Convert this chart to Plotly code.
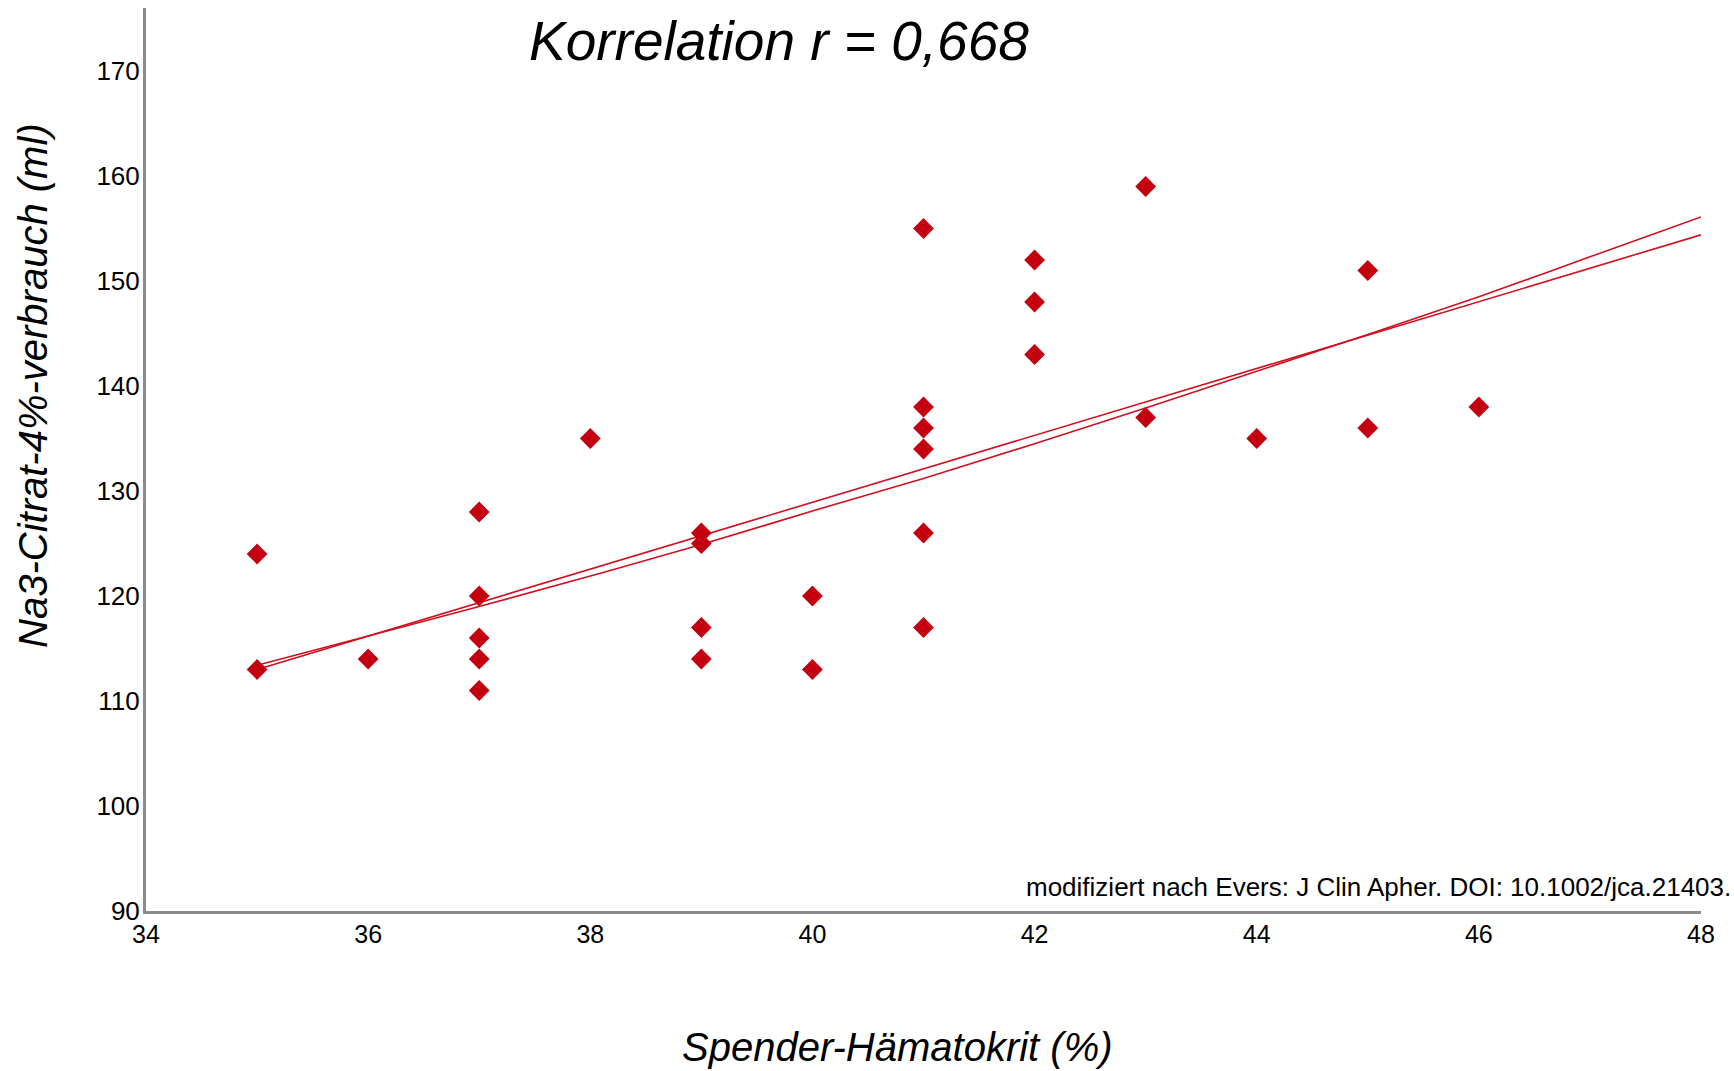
import plotly.graph_objects as go

# ---- data ----
hematocrit = [35, 35, 36, 37, 37, 37, 37, 37, 38, 39, 39, 39, 39, 40, 40,
              41, 41, 41, 41, 41, 41, 42, 42, 42, 43, 43, 44, 45, 45, 46]
citrate = [124, 113, 114, 128, 120, 116, 114, 111, 135, 126, 125, 117, 114, 120, 113,
           155, 138, 136, 134, 126, 117, 152, 148, 143, 159, 137, 135, 151, 136, 138]

# linear regression line (read endpoints)
lin_x = [35, 48]
lin_y = [113.0, 154.4]

# slightly curved (quadratic) fit line, read at each integer hematocrit
curve_x = [35, 36, 37, 38, 39, 40, 41, 42, 43, 44, 45, 46, 47, 48]
curve_y = [113.4, 116.2, 119.0, 121.9, 124.9, 128.1, 131.2, 134.5, 137.9, 141.4,
           144.9, 148.5, 152.3, 156.1]

x_ticks = [34, 36, 38, 40, 42, 44, 46, 48]
y_ticks = [90, 100, 110, 120, 130, 140, 150, 160, 170]

title_text = "Korrelation r = 0,668"
x_title = "Spender-Hämatokrit (%)"
y_title = "Na3-Citrat-4%-verbrauch (ml)"
source_text = "modifiziert nach Evers: J Clin Apher. DOI: 10.1002/jca.21403."

# ---- styling ----
MARK = "rgb(196,0,16)"
LINE = "rgb(208,16,32)"
AXIS = "#8c8c8c"
FONT = "Liberation Sans, Arial, sans-serif"
NARROW = "Liberation Sans Narrow, Arial Narrow, Liberation Sans, sans-serif"

fig = go.Figure()
fig.add_trace(go.Scatter(x=lin_x, y=lin_y, mode="lines",
                         line=dict(color=LINE, width=1.6), hoverinfo="skip"))
fig.add_trace(go.Scatter(x=curve_x, y=curve_y, mode="lines",
                         line=dict(color=LINE, width=1.6, shape="spline"), hoverinfo="skip"))
fig.add_trace(go.Scatter(x=hematocrit, y=citrate, mode="markers",
                         marker=dict(symbol="diamond", size=16, color=MARK,
                                     line=dict(width=0))))

fig.update_layout(
    width=1734, height=1071,
    margin=dict(l=146, r=33, t=8, b=160),
    paper_bgcolor="white", plot_bgcolor="white",
    showlegend=False,
    font=dict(family=FONT, color="black"),
)
fig.update_xaxes(range=[34, 48], tickvals=x_ticks, showline=True, linecolor=AXIS,
                 linewidth=3, showgrid=False, zeroline=False, ticks="",
                 tickfont=dict(family=NARROW, size=25, color="black"),
                 ticklabelstandoff=-1)
fig.update_yaxes(range=[90, 176], tickvals=y_ticks, showline=True, linecolor=AXIS,
                 linewidth=3, showgrid=False, zeroline=False, ticks="",
                 tickfont=dict(family=FONT, size=26, color="black"),
                 ticklabelstandoff=-2)

fig.add_annotation(text="<i>" + title_text + "</i>", xref="paper", yref="paper",
                   x=0.4068, y=0.9640, xanchor="center", yanchor="middle",
                   showarrow=False, font=dict(family=FONT, size=55, color="black"))
fig.add_annotation(text="<i>" + y_title + "</i>", xref="paper", yref="paper",
                   x=-0.0727, y=0.5825, xanchor="center", yanchor="middle",
                   textangle=-90, showarrow=False,
                   font=dict(family=FONT, size=40, color="black"))
fig.add_annotation(text="<i>" + x_title + "</i>", xref="paper", yref="paper",
                   x=0.4836, y=-0.1506, xanchor="center", yanchor="middle",
                   showarrow=False, font=dict(family=FONT, size=40, color="black"))
fig.add_annotation(text=source_text, xref="paper", yref="paper",
                   x=1.0205, y=0.0266, xanchor="right", yanchor="middle",
                   showarrow=False, font=dict(family=FONT, size=26, color="black"))

fig.write_html("out.html")
